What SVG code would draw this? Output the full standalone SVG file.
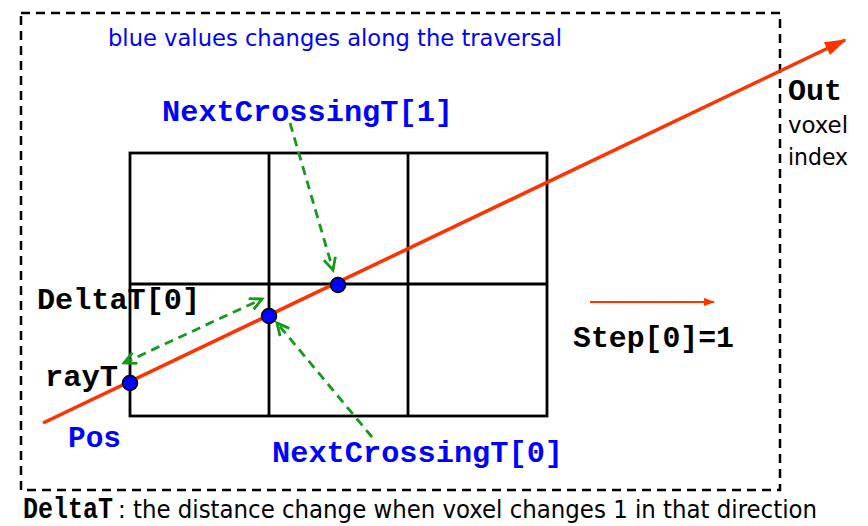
<svg xmlns="http://www.w3.org/2000/svg" width="868" height="526" viewBox="0 0 868 526">
<style>
.mono{font-family:"Liberation Mono","Courier New",monospace;font-weight:bold;font-size:30px}
.sans{font-family:"DejaVu Sans","Liberation Sans",sans-serif;font-stretch:condensed}
.blue{fill:#0000FF}
.blk{fill:#000}
.grid{stroke:#000;stroke-width:2.8;fill:none}
.green{stroke:#16991A;stroke-width:2.8;stroke-dasharray:9 6;fill:none}
.dot{fill:#0000FF;stroke:#000;stroke-width:1.5}
</style>
<defs>
<marker id="gArrow" markerUnits="userSpaceOnUse" markerWidth="16" markerHeight="14" refX="13" refY="7" orient="auto-start-reverse" viewBox="0 0 16 14">
<path d="M1,1 L13,7 L1,13" fill="none" stroke="#16991A" stroke-width="2.8"/>
</marker>
<marker id="rArrowBig" markerUnits="userSpaceOnUse" markerWidth="22" markerHeight="14" refX="20" refY="7" orient="auto" viewBox="0 0 22 14">
<path d="M0,0 L22,7 L0,14 Z" fill="#FF3300"/>
</marker>
<marker id="rArrowSmall" markerUnits="userSpaceOnUse" markerWidth="11" markerHeight="8" refX="10" refY="4" orient="auto" viewBox="0 0 11 8">
<path d="M0,0 L11,4 L0,8 Z" fill="#FF3300"/>
</marker>
</defs>

<g id="frame">
<rect x="21" y="13" width="759" height="477" fill="none" stroke="#000" stroke-width="2.5" stroke-dasharray="9 6"/>
</g>

<g id="grid" class="grid">
<rect x="130" y="153" width="417" height="263"/>
<line x1="269" y1="153" x2="269" y2="416"/>
<line x1="408" y1="153" x2="408" y2="416"/>
<line x1="130" y1="284" x2="547" y2="284"/>
</g>

<g id="ray">
<line x1="43" y1="423" x2="845" y2="40" stroke="#FF3300" stroke-width="3.5" marker-end="url(#rArrowBig)"/>
</g>

<g id="step-arrow">
<line x1="590" y1="302" x2="714" y2="302" stroke="#FF3300" stroke-width="2" marker-end="url(#rArrowSmall)"/>
</g>

<g id="connectors">
<line class="green" x1="290" y1="123" x2="333" y2="270" marker-end="url(#gArrow)"/>
<line class="green" x1="124" y1="363" x2="262" y2="299" marker-start="url(#gArrow)" marker-end="url(#gArrow)"/>
<line class="green" x1="372" y1="437" x2="277" y2="323" marker-end="url(#gArrow)"/>
</g>

<g id="points">
<circle id="pt-rayT" class="dot" cx="130" cy="383" r="7.5"/>
<circle id="pt-cross0" class="dot" cx="269" cy="316" r="7.5"/>
<circle id="pt-cross1" class="dot" cx="338" cy="285" r="7.5"/>
</g>

<g id="label-title">
<text class="sans blue" x="108" y="46" font-size="23" textLength="454" lengthAdjust="spacingAndGlyphs">blue values changes along the traversal</text>
</g>
<g id="label-next1">
<text class="mono blue" x="162" y="121" textLength="291" lengthAdjust="spacingAndGlyphs">NextCrossingT[1]</text>
</g>
<g id="label-out">
<text class="mono blk" x="788" y="100" textLength="54" lengthAdjust="spacingAndGlyphs">Out</text>
<text class="sans blk" x="788" y="133" font-size="23" textLength="60" lengthAdjust="spacingAndGlyphs">voxel</text>
<text class="sans blk" x="788" y="165" font-size="23" textLength="60" lengthAdjust="spacingAndGlyphs">index</text>
</g>
<g id="label-delta">
<text class="mono blk" x="37" y="309" textLength="163" lengthAdjust="spacingAndGlyphs">DeltaT[0]</text>
</g>
<g id="label-rayT">
<text class="mono blk" x="45" y="386" textLength="73" lengthAdjust="spacingAndGlyphs">rayT</text>
</g>
<g id="label-pos">
<text class="mono blue" x="68" y="447" textLength="53" lengthAdjust="spacingAndGlyphs">Pos</text>
</g>
<g id="label-next0">
<text class="mono blue" x="272" y="462" textLength="291" lengthAdjust="spacingAndGlyphs">NextCrossingT[0]</text>
</g>
<g id="label-step">
<text class="mono blk" x="573" y="347" textLength="161" lengthAdjust="spacingAndGlyphs">Step[0]=1</text>
</g>
<g id="caption">
<text class="mono blk" x="23" y="518" font-size="22" textLength="90" lengthAdjust="spacingAndGlyphs">DeltaT</text>
<text class="sans blk" x="118" y="518" font-size="24" textLength="699" lengthAdjust="spacingAndGlyphs">: the distance change when voxel changes 1 in that direction</text>
</g>
</svg>
